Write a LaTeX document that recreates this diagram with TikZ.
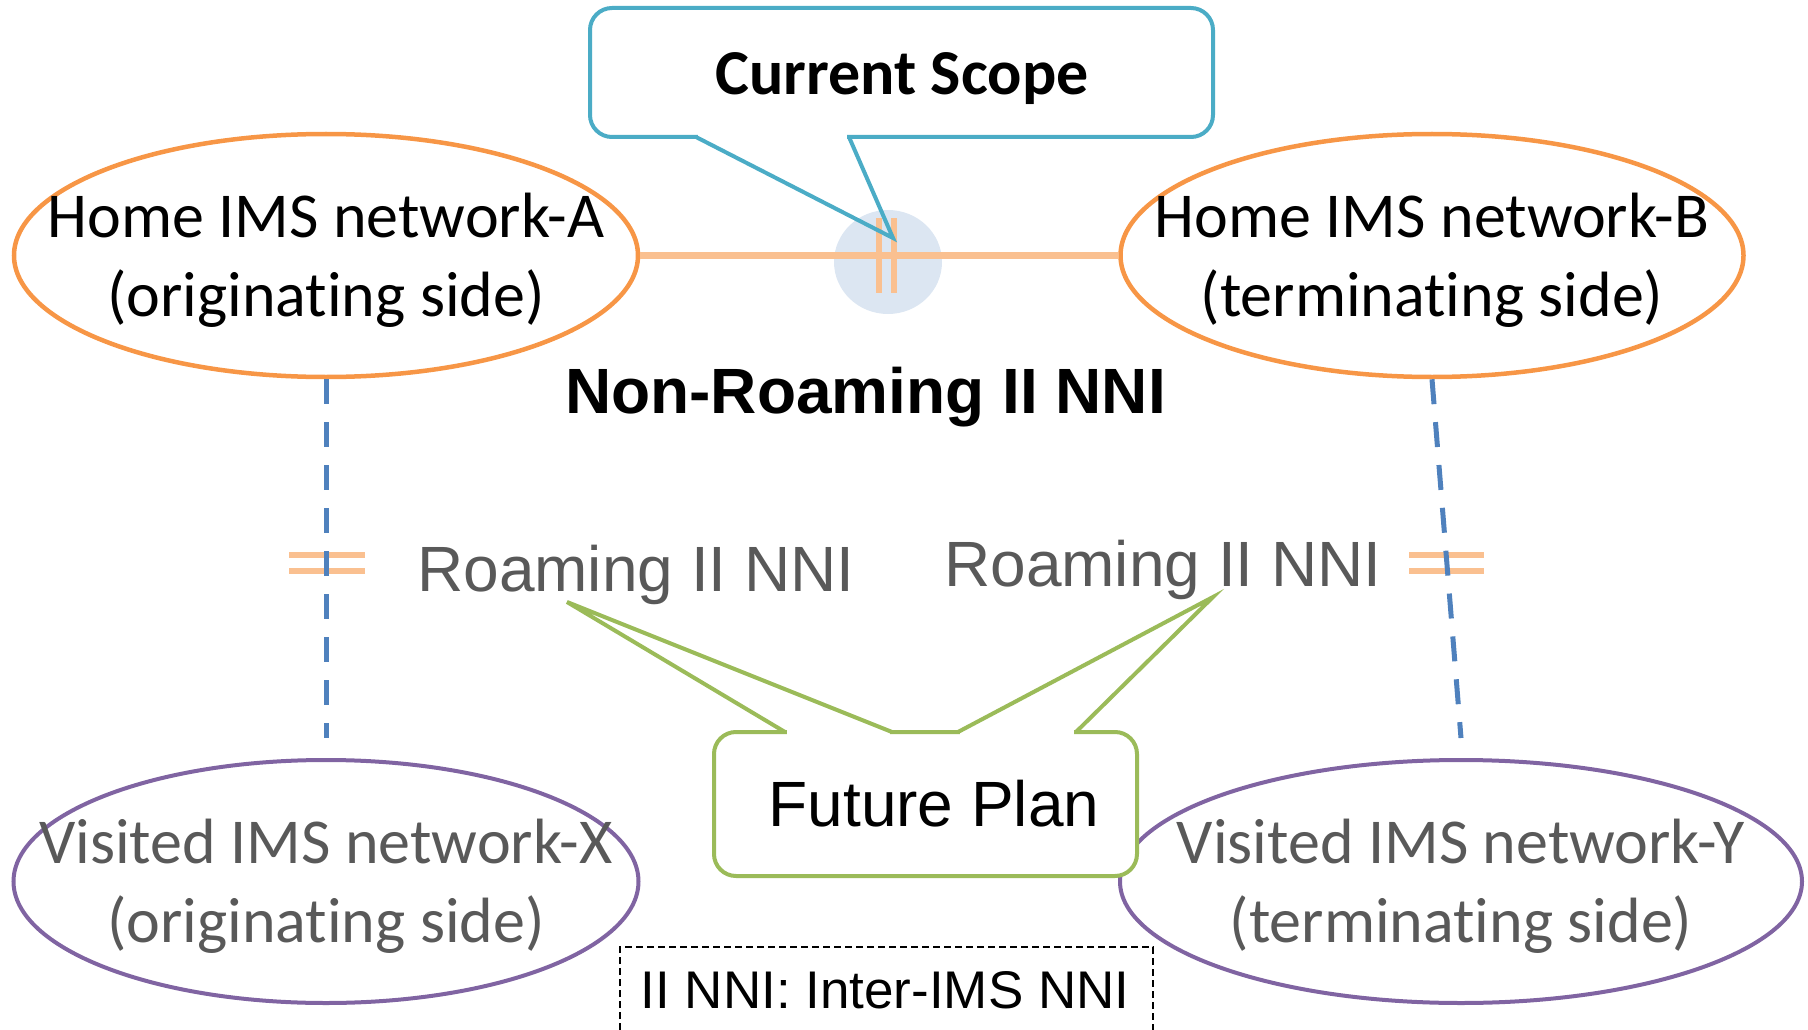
\documentclass[tikz,border=0pt]{standalone}
\usepackage{fontspec}
\setmainfont{Liberation Sans}
\newfontfamily\calibrifont[Ligatures=NoCommon]{Carlito}
\newfontfamily\arialfont{Liberation Sans}
\usetikzlibrary{shapes.geometric}
\definecolor{homeorange}{HTML}{F79646}
\definecolor{lightorange}{HTML}{FAC090}
\definecolor{visitpurple}{HTML}{8064A2}
\definecolor{scopeblue}{HTML}{4BACC6}
\definecolor{scopefill}{HTML}{DCE6F2}
\definecolor{dashblue}{HTML}{4F81BD}
\definecolor{plangreen}{HTML}{9BBB59}
\definecolor{graytext}{HTML}{595959}
\begin{document}
\begin{tikzpicture}[x=1pt,y=-1pt,
  homeell/.style={ellipse, draw=homeorange, line width=4.5pt, minimum height=243pt, inner sep=0pt},
  visitell/.style={ellipse, draw=visitpurple, line width=4pt, minimum height=243pt, inner sep=0pt},
  elltext/.style={align=center, inner sep=0pt, yshift=-5pt, font=\calibrifont\fontsize{64}{79}\selectfont},
  roamtext/.style={anchor=base, inner sep=0pt, text=graytext, font=\arialfont\fontsize{64}{76}\selectfont},
  nniline/.style={lightorange, line width=7pt},
  tickline/.style={lightorange, line width=6pt},
  roamdash/.style={dashblue, line width=5pt, dash pattern=on 25pt off 18pt},
  scopebox/.style={draw=scopeblue, line width=4pt, fill=white, rounded corners=22pt, inner sep=0pt},
  planbox/.style={draw=plangreen, line width=4pt, fill=white, rounded corners=22pt, inner sep=0pt},
]
\useasboundingbox (0,0) rectangle (1808,1030);

% scope highlight
\fill[scopefill] (888,262) ellipse [x radius=54pt, y radius=52pt];

% ellipses
\node[homeell, minimum width=624pt] (A) at (326,255.5) {};
\node[homeell, minimum width=623pt] (B) at (1432,255.5) {};
\node[visitell, minimum width=625pt] (X) at (326,881.5) {};
\node[visitell, minimum width=682pt] (Y) at (1461,881.5) {};

\node[elltext] (Atext) at (A.center) {Home IMS network-A\\(originating side)};
\node[elltext] (Btext) at (B.center) {Home IMS network-B\\(terminating side)};
\node[elltext, text=graytext] (Xtext) at (X.center) {Visited IMS network-X\\(originating side)};
\node[elltext, text=graytext] (Ytext) at (Y.center) {Visited IMS network-Y\\(terminating side)};

% non-roaming interface
\draw[nniline] (A.east) -- (B.west);
\draw[tickline] (879,218) -- (879,293);
\draw[tickline] (894,218) -- (894,293);

% roaming interfaces
\coordinate (Xtop) at (326,738);
\coordinate (Ytop) at (1461,738);
\draw[tickline] (289,555) -- (365,555);
\draw[tickline] (289,571) -- (365,571);
\draw[tickline] (1409,555) -- (1484,555);
\draw[tickline] (1409,571) -- (1484,571);
\draw[roamdash] (A.south) -- (Xtop);
\draw[roamdash] (B.south) -- (Ytop);

% labels
\node[anchor=base, inner sep=0pt, font=\arialfont\bfseries\fontsize{64}{76}\selectfont] (nonroam) at (865.5,413) {Non-Roaming II NNI};
\node[roamtext] (roamL) at (636,591) {Roaming II NNI};
\node[roamtext] (roamR) at (1163,586) {Roaming II NNI};

% Current Scope callout
\node[scopebox, minimum width=623pt, minimum height=129pt] (csbox) at (901.5,72.5) {};
\coordinate (cstip) at (893,238);
\fill[white] (698,134) rectangle (847,140);
\draw[scopeblue, line width=4pt, line join=miter] (696,137) -- (cstip) -- (849,137);
\node[anchor=base, inner sep=0pt, font=\calibrifont\bfseries\fontsize{64}{76}\selectfont] (cstext) at (902,95) {Current Scope};

% Future Plan callout
\node[planbox, minimum width=423pt, minimum height=144pt] (fpbox) at (925.5,804) {};
\coordinate (fptipL) at (567,602);
\coordinate (fptipR) at (1213,597);
\fill[white] (787,729) rectangle (890,735);
\fill[white] (960,729) rectangle (1074,735);
\draw[plangreen, line width=4pt] (785,732) -- (fptipL) -- (892,732);
\draw[plangreen, line width=4pt] (958,732) -- (fptipR) -- (1076,732);
\node[anchor=base, inner sep=0pt, font=\arialfont\fontsize{64}{76}\selectfont] (fptext) at (934,826) {Future Plan};

% legend
\draw[black, line width=2pt, dash pattern=on 7pt off 4pt] (620,1030) -- (620,947) -- (1153,947) -- (1153,1030);
\node[anchor=base, inner sep=0pt, font=\arialfont\fontsize{53}{64}\selectfont] (legend) at (885,1008) {II NNI: Inter-IMS NNI};
\end{tikzpicture}
\end{document}
